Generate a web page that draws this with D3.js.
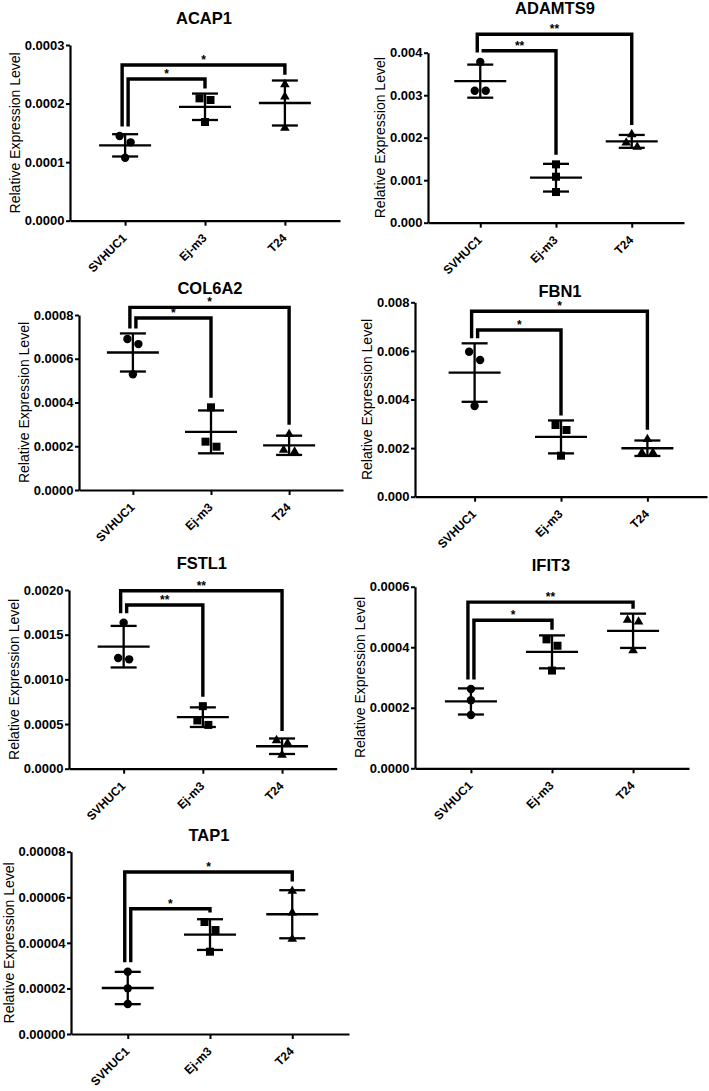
<!DOCTYPE html>
<html><head><meta charset="utf-8">
<script src="https://cdn.jsdelivr.net/npm/d3@7"></script>
<style>
body{margin:0;background:#fff}
svg{display:block}
text{font-family:"Liberation Sans",Arial,sans-serif;fill:#000}
</style>
</head><body>
<svg id="c" width="709" height="1091"></svg>
<script>
// ---------- data ----------
const groups = ["SVHUC1", "Ej-m3", "T24"];
const genes = ["ACAP1", "ADAMTS9", "COL6A2", "FBN1", "FSTL1", "IFIT3", "TAP1"];

const ACAP1 = [[0.0001446, 0.0001338, 0.0001076], [0.0002089, 0.0002061, 0.0001685], [0.0002328, 0.0002118, 0.0001583]];
const ADAMTS9 = [[0.00378, 0.003106, 0.003106], [0.001373, 0.001082, 0.000722], [0.002078, 0.001882, 0.00178]];
const COL6A2 = [[0.00069, 0.000667, 0.000529], [0.000378, 0.000221, 0.000198], [0.000255, 0.000183, 0.000175]];
const FBN1 = [[0.005967, 0.005625, 0.003733], [0.00295, 0.002745, 0.001687], [0.002362, 0.001811, 0.001811]];
const FSTL1 = [[0.001634, 0.001239, 0.001224], [0.0007, 0.00054, 0.00049], [0.000317, 0.000284, 0.000153]];
const IFIT3 = [[0.000262, 0.0002246, 0.000176], [0.000426, 0.000405, 0.000323], [0.00049, 0.000484, 0.000389]];
const TAP1 = [[2.735e-5, 2.004e-5, 1.316e-5], [4.914e-5, 4.563e-5, 3.612e-5], [6.274e-5, 5.324e-5, 4.168e-5]];
const geneValues = [ACAP1, ADAMTS9, COL6A2, FBN1, FSTL1, IFIT3, TAP1];

const yMaxes = [0.0003, 0.004, 0.0008, 0.008, 0.002, 0.0006, 0.00008];
const tickSteps = [0.0001, 0.001, 0.0002, 0.002, 0.0005, 0.0002, 0.00002];
const tickDecimals = [4, 3, 4, 3, 4, 4, 5];

// significance brackets: inner = SVHUC1 vs Ej-m3, outer = SVHUC1 vs T24
const innerLevels = [0.000242, 0.004047, 0.000786, 0.00686, 0.001832, 0.000489, 5.499e-5];
const outerLevels = [0.0002658, 0.004433, 0.000835, 0.00763, 0.001992, 0.000549, 7.108e-5];
const innerLabels = ["*", "**", "*", "*", "**", "*", "*"];
const outerLabels = ["*", "**", "*", "*", "**", "**", "*"];

const yLabel = "Relative Expression Level";

// ---------- layout (pixels) ----------
const layout = [
  {ax: 70,  xEnd: 340,   yTop: 45,    y0: 220.7, titleY: 18},
  {ax: 428, xEnd: 684,   yTop: 52.7,  y0: 222.7, titleY: 8},
  {ax: 79,  xEnd: 343,   yTop: 315,   y0: 490,   titleY: 288},
  {ax: 415, xEnd: 707,   yTop: 302.3, y0: 496.7, titleY: 291.7},
  {ax: 69,  xEnd: 336.7, yTop: 590,   y0: 768.7, titleY: 563},
  {ax: 415, xEnd: 689,   yTop: 586.7, y0: 768.3, titleY: 565},
  {ax: 71,  xEnd: 349,   yTop: 851.7, y0: 1034,  titleY: 835}
];

const svg = d3.select("#c");
const markerShapes = ["circle", "square", "triangle"];
const FONT = '"Liberation Sans",Arial,sans-serif';

genes.forEach((gene, i) => {
  const L = layout[i];
  const vals = geneValues[i];
  const x = d3.scalePoint().domain(groups).range([L.ax, L.xEnd]).padding(0.69);
  const y = d3.scaleLinear().domain([0, yMaxes[i]]).range([L.y0, L.yTop]);
  const g = svg.append("g");

  // y axis
  const nT = Math.round(yMaxes[i] / tickSteps[i]);
  const ticks = d3.range(0, nT + 1).map(k => k * tickSteps[i]);
  const ya = g.append("g").attr("transform", `translate(${L.ax},0)`)
    .call(d3.axisLeft(y).tickValues(ticks).tickFormat(d3.format("." + tickDecimals[i] + "f"))
      .tickSize(4).tickSizeOuter(0).tickPadding(1.5));
  ya.select(".domain").attr("stroke", "#000").attr("stroke-width", 2.2);
  ya.selectAll(".tick line").attr("stroke", "#000").attr("stroke-width", 2);
  ya.selectAll(".tick text").attr("font-size", 13).attr("font-weight", "bold")
    .style("font-family", FONT).attr("fill", "#000");

  // x axis
  const xa = g.append("g").attr("transform", `translate(0,${L.y0})`)
    .call(d3.axisBottom(x).tickSize(5).tickSizeOuter(0));
  xa.select(".domain").attr("stroke", "#000").attr("stroke-width", 2.2);
  xa.selectAll(".tick line").attr("stroke", "#000").attr("stroke-width", 2);
  xa.selectAll(".tick text").attr("font-size", 12).attr("font-weight", "bold")
    .style("font-family", FONT).attr("fill", "#000")
    .attr("x", 0).attr("y", 0).attr("dy", "0.35em")
    .attr("text-anchor", "end")
    .attr("transform", "translate(-1,15) rotate(-45)");

  // y label
  const bb = ya.node().getBBox();
  const lx = L.ax + bb.x - 5;
  g.append("text").attr("transform", `translate(${lx},${(L.y0 + L.yTop) / 2}) rotate(-90)`)
    .attr("text-anchor", "middle").attr("font-size", 14).text(yLabel);

  // title
  g.append("text").attr("x", x(groups[1]) - 1).attr("y", L.titleY).attr("dy", "0.35em")
    .attr("text-anchor", "middle").attr("font-size", 16.5).attr("font-weight", "bold").text(gene);

  // groups: mean, SD, points
  const tops = [];
  groups.forEach((grp, j) => {
    const v = vals[j];
    const cx = x(grp);
    const m = d3.mean(v), sd = d3.deviation(v);
    const gg = g.append("g");
    gg.append("line").attr("x1", cx).attr("x2", cx).attr("y1", y(m + sd)).attr("y2", y(m - sd))
      .attr("stroke", "#000").attr("stroke-width", 2.3);
    gg.append("line").attr("x1", cx - 26).attr("x2", cx + 26).attr("y1", y(m)).attr("y2", y(m))
      .attr("stroke", "#000").attr("stroke-width", 2.3);
    [m + sd, m - sd].forEach(e => gg.append("line").attr("x1", cx - 13).attr("x2", cx + 13)
      .attr("y1", y(e)).attr("y2", y(e)).attr("stroke", "#000").attr("stroke-width", 2.3));

    // horizontal spread for overlapping points (pair closest if < 9px)
    const idx = v.map((d, k) => k).sort((a, b) => v[b] - v[a]);
    const off = v.map(() => 0);
    let best = null;
    for (let k = 0; k < idx.length - 1; k++) {
      const dpx = Math.abs(y(v[idx[k]]) - y(v[idx[k + 1]]));
      if (dpx < 9 && (!best || dpx < best.d)) best = {a: idx[k], b: idx[k + 1], d: dpx};
    }
    if (best) { off[best.a] = -5.5; off[best.b] = 5.5; }

    v.forEach((d, k) => {
      const px = cx + off[k], py = y(d);
      if (markerShapes[j] === "circle") {
        gg.append("circle").attr("cx", px).attr("cy", py).attr("r", 4.2).attr("fill", "#000");
      } else if (markerShapes[j] === "square") {
        gg.append("rect").attr("x", px - 4).attr("y", py - 4).attr("width", 8).attr("height", 8).attr("fill", "#000");
      } else {
        gg.append("path").attr("d", d3.symbol().type(d3.symbolTriangle).size(40)())
          .attr("transform", `translate(${px},${py})`).attr("fill", "#000");
      }
    });
    tops.push(Math.min(y(m + sd), y(d3.max(v)) - 4.5));
  });

  // brackets
  const gap = 5;
  const c0 = x(groups[0]);
  const brackets = [
    {to: 1, level: innerLevels[i], label: innerLabels[i], lx: c0 + 3},
    {to: 2, level: outerLevels[i], label: outerLabels[i], lx: c0 - 3}
  ];
  brackets.forEach(b => {
    const ly = y(b.level);
    const rx = x(groups[b.to]);
    const path = d3.path();
    path.moveTo(b.lx, tops[0] - gap);
    path.lineTo(b.lx, ly);
    path.lineTo(rx, ly);
    path.lineTo(rx, tops[b.to] - gap);
    g.append("path").attr("d", path.toString()).attr("fill", "none").attr("stroke", "#000")
      .attr("stroke-width", 3.4).attr("stroke-linejoin", "miter");
    g.append("text").attr("x", (b.lx + rx) / 2).attr("y", ly - 1).attr("text-anchor", "middle")
      .attr("font-size", 12).attr("font-weight", "bold").text(b.label);
  });
});
</script>
</body></html>
